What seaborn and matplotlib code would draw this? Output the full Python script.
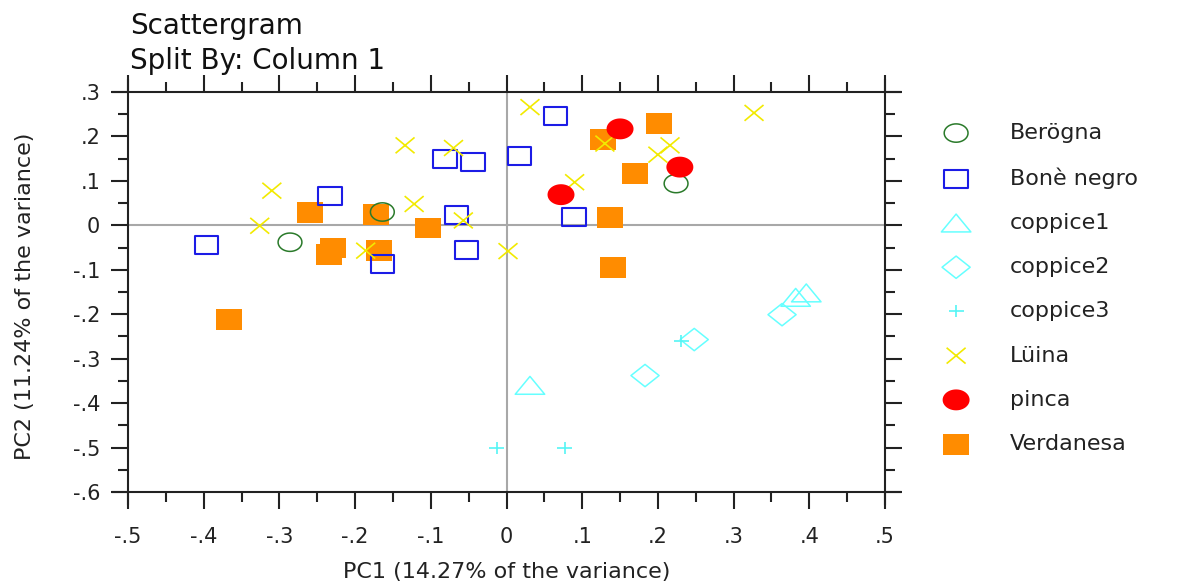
import numpy as np
import pandas as pd
import matplotlib
matplotlib.use("Agg")
import matplotlib.pyplot as plt
from matplotlib.path import Path
from matplotlib.markers import MarkerStyle
from matplotlib.ticker import FuncFormatter, FixedLocator
import seaborn as sns

# ---------------- data ----------------
categories = ["Berögna", "Bonè negro", "coppice1", "coppice2", "coppice3",
              "Lüina", "pinca", "Verdanesa"]

berogna_x = [-0.286, -0.164, 0.224]
berogna_y = [-0.038, 0.030, 0.094]

bone_x = [-0.396, -0.233, -0.164, -0.081, -0.044, -0.066, -0.053, 0.017, 0.065, 0.089]
bone_y = [-0.045, 0.065, -0.087, 0.149, 0.142, 0.024, -0.056, 0.155, 0.247, 0.018]

coppice1_x = [0.031, 0.396, 0.382]
coppice1_y = [-0.360, -0.152, -0.162]

coppice2_x = [0.364, 0.248, 0.183]
coppice2_y = [-0.201, -0.257, -0.338]

coppice3_x = [0.231, 0.077, -0.013]
coppice3_y = [-0.261, -0.500, -0.500]

luina_x = [-0.310, -0.326, -0.186, -0.134, -0.070, -0.122, -0.057, 0.002,
           0.031, 0.090, 0.130, 0.200, 0.216, 0.327]
luina_y = [0.078, -0.001, -0.057, 0.180, 0.174, 0.048, 0.011, -0.058,
           0.266, 0.097, 0.184, 0.159, 0.180, 0.253]

pinca_x = [0.072, 0.150, 0.229]
pinca_y = [0.069, 0.217, 0.131]

verdanesa_x = [-0.260, -0.229, -0.234, -0.173, -0.169, -0.104, 0.127, 0.202,
               0.170, 0.137, 0.141, -0.367]
verdanesa_y = [0.029, -0.051, -0.066, 0.024, -0.056, -0.006, 0.193, 0.230,
               0.116, 0.018, -0.094, -0.212]

x_ticks = [-0.5, -0.4, -0.3, -0.2, -0.1, 0.0, 0.1, 0.2, 0.3, 0.4, 0.5]
y_ticks = [-0.6, -0.5, -0.4, -0.3, -0.2, -0.1, 0.0, 0.1, 0.2, 0.3]
x_minor = [-0.45, -0.35, -0.25, -0.15, -0.05, 0.05, 0.15, 0.25, 0.35, 0.45]
y_minor = [-0.55, -0.45, -0.35, -0.25, -0.15, -0.05, 0.05, 0.15, 0.25]

title_lines = ["Scattergram", "Split By: Column 1"]
x_label = "PC1 (14.27% of the variance)"
y_label = "PC2 (11.24% of the variance)"

frames = []
for name, xs, ys in [("Berögna", berogna_x, berogna_y),
                     ("Bonè negro", bone_x, bone_y),
                     ("coppice1", coppice1_x, coppice1_y),
                     ("coppice2", coppice2_x, coppice2_y),
                     ("coppice3", coppice3_x, coppice3_y),
                     ("Lüina", luina_x, luina_y),
                     ("pinca", pinca_x, pinca_y),
                     ("Verdanesa", verdanesa_x, verdanesa_y)]:
    frames.append(pd.DataFrame({"PC1": xs, "PC2": ys, "group": name}))
df = pd.concat(frames, ignore_index=True)

# ---------------- marker shapes (stretched horizontally like the reference) -------
def rect_path(w, h):
    v = [(-w/2, -h/2), (w/2, -h/2), (w/2, h/2), (-w/2, h/2), (-w/2, -h/2)]
    return Path(v, [Path.MOVETO, Path.LINETO, Path.LINETO, Path.LINETO, Path.CLOSEPOLY])

def ellipse_path(w, h):
    t = np.linspace(0, 2 * np.pi, 41)
    v = np.column_stack([w/2 * np.cos(t), h/2 * np.sin(t)])
    codes = [Path.MOVETO] + [Path.LINETO] * (len(t) - 2) + [Path.CLOSEPOLY]
    return Path(v, codes)

def tri_path(w, h):
    v = [(-w/2, -h/2), (w/2, -h/2), (0, h/2), (-w/2, -h/2)]
    return Path(v, [Path.MOVETO, Path.LINETO, Path.LINETO, Path.CLOSEPOLY])

def diamond_path(w, h):
    v = [(0, -h/2), (w/2, 0), (0, h/2), (-w/2, 0), (0, -h/2)]
    return Path(v, [Path.MOVETO, Path.LINETO, Path.LINETO, Path.LINETO, Path.CLOSEPOLY])

def plus_path(w, h):
    v = [(-w/2, 0), (w/2, 0), (0, -h/2), (0, h/2)]
    return Path(v, [Path.MOVETO, Path.LINETO, Path.MOVETO, Path.LINETO])

def x_path(w, h):
    v = [(-w/2, -h/2), (w/2, h/2), (-w/2, h/2), (w/2, -h/2)]
    return Path(v, [Path.MOVETO, Path.LINETO, Path.MOVETO, Path.LINETO])

styles = {
    "Berögna":    dict(marker=ellipse_path(1.3, 1.0), s=295, facecolor="none", edgecolor="#2a7a2a", linewidth=1.1),
    "Bonè negro": dict(marker=rect_path(1.3, 1.0), s=285, facecolor="none", edgecolor="#1c1ce6", linewidth=1.5),
    "coppice1":   dict(marker=tri_path(1.65, 1.0), s=450, facecolor="none", edgecolor="#66ffff", linewidth=1.1),
    "coppice2":   dict(marker=diamond_path(1.26, 1.0), s=410, facecolor="none", edgecolor="#66ffff", linewidth=1.1),
    "coppice3":   dict(marker=plus_path(1.25, 1.0), s=117, facecolor="none", edgecolor="#55f5f5", linewidth=1.2),
    "Lüina":      dict(marker=x_path(1.2, 1.0), s=187, facecolor="none", edgecolor="#f2ea00", linewidth=1.2),
    "pinca":      dict(marker=ellipse_path(1.29, 1.0), s=378, facecolor="#ff0000", edgecolor="none", linewidth=0),
    "Verdanesa":  dict(marker=rect_path(1.24, 1.0), s=350, facecolor="#ff8c00", edgecolor="none", linewidth=0),
}

# ---------------- figure ----------------
sns.set_theme(style="ticks")
plt.rcParams["font.family"] = ["DejaVu Sans"]

fig = plt.figure(figsize=(11.95, 5.86), dpi=100)
ax = fig.add_axes([128/1195, 1 - 492/586, 757/1195, 400/586])

ax.axhline(0, color="#a8a8a8", lw=1.5, zorder=0.5)
ax.axvline(0, color="#a8a8a8", lw=1.5, zorder=0.5)

draw_order = ["Verdanesa", "Berögna", "Bonè negro", "coppice1", "coppice2",
              "coppice3", "Lüina", "pinca"]
handles = {}
for name in draw_order:
    st = dict(styles[name])
    marker = MarkerStyle(st.pop("marker"))
    sub = df[df["group"] == name]
    n_before = len(ax.collections)
    sns.scatterplot(data=sub, x="PC1", y="PC2", ax=ax, marker=marker,
                    label=name, legend=False, zorder=3, **st)
    handles[name] = ax.collections[n_before]

ax.set_xlim(-0.5, 0.5)
ax.set_ylim(-0.6, 0.3)

ax.xaxis.set_major_locator(FixedLocator(x_ticks))
ax.yaxis.set_major_locator(FixedLocator(y_ticks))
ax.xaxis.set_minor_locator(FixedLocator(x_minor))
ax.yaxis.set_minor_locator(FixedLocator(y_minor))

def fmt(v, pos):
    s = f"{v:.1f}"
    if s in ("0.0", "-0.0"):
        return "0"
    return s.replace("0.", ".", 1)

ax.xaxis.set_major_formatter(FuncFormatter(fmt))
ax.yaxis.set_major_formatter(FuncFormatter(fmt))

ax.tick_params(which="both", direction="out", top=True, right=True,
               labeltop=False, labelright=False, color="#222222", width=1.5)
ax.tick_params(which="major", length=12, labelsize=15, labelcolor="#222222")
ax.tick_params(which="minor", length=7)
ax.tick_params(axis="x", which="major", pad=13)
ax.tick_params(axis="y", which="major", pad=8)

for side in ["left", "right", "top", "bottom"]:
    ax.spines[side].set_visible(True)
    ax.spines[side].set_linewidth(1.5)
    ax.spines[side].set_color("#222222")
ax.spines["top"].set_bounds(-0.52, 0.52)
ax.spines["bottom"].set_bounds(-0.52, 0.52)
ax.spines["left"].set_bounds(-0.627, 0.327)
ax.spines["right"].set_bounds(-0.627, 0.327)

ax.set_xlabel(x_label, fontsize=16, color="#222222")
ax.set_ylabel(y_label, fontsize=16, color="#222222")
ax.xaxis.set_label_coords(0.5, -0.20)
ax.xaxis.label.set_va("center")
ax.yaxis.set_label_coords((25 - 128) / 757, 0.49)
ax.yaxis.label.set_va("center")

fig.text(130/1195, 1 - 34/586, title_lines[0], fontsize=20, ha="left", va="baseline", color="#111111")
fig.text(130/1195, 1 - 69/586, title_lines[1], fontsize=20, ha="left", va="baseline", color="#111111")

leg = ax.legend([handles[c] for c in categories], categories,
                loc="upper left", bbox_to_anchor=(925/1195, 1 - 114/586),
                bbox_transform=fig.transFigure, borderaxespad=0, frameon=False,
                fontsize=16, handlelength=2.0, handletextpad=1.43,
                labelspacing=1.09, scatterpoints=1)
for t in leg.get_texts():
    t.set_color("#222222")

fig.savefig("out.png", dpi=100)
